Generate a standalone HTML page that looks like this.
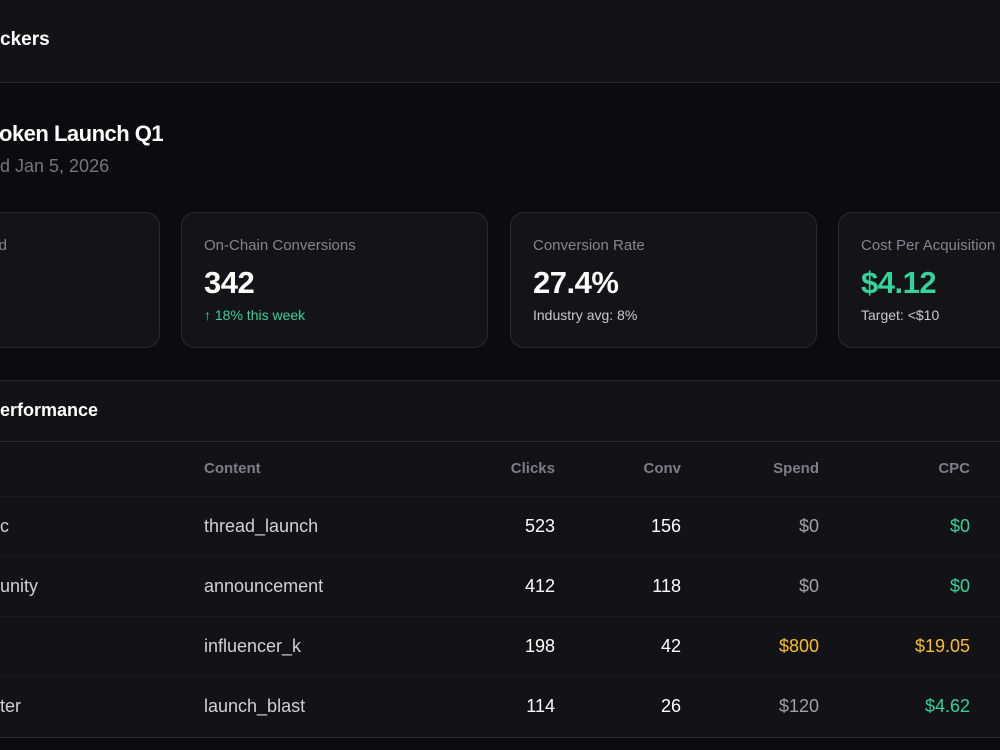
<!DOCTYPE html>
<html><head><style>
body{margin:0;width:1000px;height:750px;overflow:hidden;background:#0c0c10;font-family:"Liberation Sans",sans-serif;position:relative}
.a{position:absolute;white-space:nowrap}
.card{position:absolute;top:212px;height:134px;width:305px;border:1px solid #2a2a31;border-radius:14px;background:#131318}
.lbl{position:absolute;left:22px;top:24px;font-size:15px;color:#85858f}
.val{position:absolute;left:22px;top:52px;font-size:31px;font-weight:bold;color:#fff;letter-spacing:-0.5px}
.sub{position:absolute;left:22px;top:94px;font-size:14px;color:#c8c8cf}
.row{position:absolute;left:0;width:1000px;height:60px;border-bottom:1px solid #1c1c22}
.c{position:absolute;top:20px;font-size:18px;color:#d0d0d6}
.r{text-align:right}
</style></head><body>
<div class="a" style="left:0;top:0;width:1000px;height:82px;background:#121217;border-bottom:1px solid #2a2a30"></div>
<div class="a" style="left:0;top:29px;font-size:19px;font-weight:bold;color:#fff">ckers</div>
<div class="a" style="left:-1px;top:121px;font-size:22px;font-weight:bold;color:#fff;letter-spacing:-0.5px">oken Launch Q1</div>
<div class="a" style="left:0;top:156px;font-size:18px;color:#75757e">d Jan 5, 2026</div>

<div class="card" style="left:-147px"><div class="lbl" style="left:auto;right:152px">d</div></div>
<div class="card" style="left:181px"><div class="lbl">On-Chain Conversions</div><div class="val">342</div><div class="sub" style="color:#34d399">↑ 18% this week</div></div>
<div class="card" style="left:510px"><div class="lbl">Conversion Rate</div><div class="val">27.4%</div><div class="sub">Industry avg: 8%</div></div>
<div class="card" style="left:838px"><div class="lbl">Cost Per Acquisition</div><div class="val" style="color:#34d399">$4.12</div><div class="sub">Target: &lt;$10</div></div>

<div class="a" style="left:0;top:380px;width:1000px;height:356px;background:#121217;border-top:1px solid #2a2a30;border-bottom:1px solid #2a2a30"></div>
<div class="a" style="left:0;top:400px;font-size:18px;font-weight:bold;color:#fff">erformance</div>
<div class="row" style="top:441px;height:54px;border-top:1px solid #2a2a30">
<div class="c" style="left:204px;top:18px;font-size:15px;font-weight:bold;color:#7d7d87">Content</div>
<div class="c r" style="right:445px;top:18px;font-size:15px;font-weight:bold;color:#7d7d87">Clicks</div>
<div class="c r" style="right:319px;top:18px;font-size:15px;font-weight:bold;color:#7d7d87">Conv</div>
<div class="c r" style="right:181px;top:18px;font-size:15px;font-weight:bold;color:#7d7d87">Spend</div>
<div class="c r" style="right:30px;top:18px;font-size:15px;font-weight:bold;color:#7d7d87">CPC</div>
</div>
<div class="row" style="top:496px"><div class="c" style="left:0">c</div><div class="c" style="left:204px">thread_launch</div><div class="c" style="right:445px;color:#fff">523</div><div class="c" style="right:319px;color:#fff">156</div><div class="c" style="right:181px;color:#a0a0a8">$0</div><div class="c" style="right:30px;color:#34d399">$0</div></div>
<div class="row" style="top:556px"><div class="c" style="left:0">unity</div><div class="c" style="left:204px">announcement</div><div class="c" style="right:445px;color:#fff">412</div><div class="c" style="right:319px;color:#fff">118</div><div class="c" style="right:181px;color:#a0a0a8">$0</div><div class="c" style="right:30px;color:#34d399">$0</div></div>
<div class="row" style="top:616px"><div class="c" style="left:204px">influencer_k</div><div class="c" style="right:445px;color:#fff">198</div><div class="c" style="right:319px;color:#fff">42</div><div class="c" style="right:181px;color:#fbbf24">$800</div><div class="c" style="right:30px;color:#fbbf24">$19.05</div></div>
<div class="row" style="top:676px;border-bottom:none"><div class="c" style="left:0">ter</div><div class="c" style="left:204px">launch_blast</div><div class="c" style="right:445px;color:#fff">114</div><div class="c" style="right:319px;color:#fff">26</div><div class="c" style="right:181px;color:#a0a0a8">$120</div><div class="c" style="right:30px;color:#34d399">$4.62</div></div>
</body></html>
